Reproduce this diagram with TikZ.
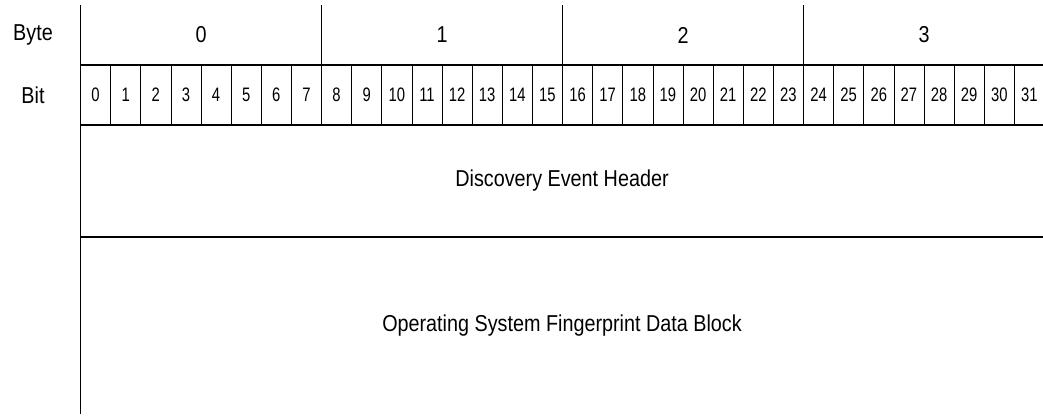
\documentclass[tikz,border=0pt]{standalone}
\usepackage{fontspec}
\setmainfont[FakeStretch=0.86]{Liberation Sans}
\newfontfamily\bitfont[FakeStretch=0.76]{Liberation Sans}
\begin{document}
\begin{tikzpicture}[x=1pt,y=-1pt,
  major/.style={line width=1.5pt,black},
  minor/.style={line width=0.7pt,black},
  lbl/.style={inner sep=0pt,font=\fontsize{23}{27}\selectfont},
  bitlbl/.style={inner sep=0pt,font=\bitfont\fontsize{19.5}{23}\selectfont},
  field/.style={inner sep=0pt,font=\fontsize{23}{27}\selectfont}]
\useasboundingbox (0,0) rectangle (1043,415);
% rows
\coordinate (L0) at (80.5,5);
\coordinate (L1) at (80.5,414);
\draw[major] (L0) -- (L1);
\foreach \y/\n in {65/a,125/b,237/c}{
  \coordinate (h\n l) at (80.5,\y);
  \coordinate (h\n r) at (1043,\y);
  \draw[major] (h\n l) -- (h\n r);
}
% bit dividers
\foreach \k in {1,...,31}{
  \pgfmathsetmacro{\xx}{80.5+30.125*\k}
  \coordinate (bt\k) at (\xx,65);
  \coordinate (bb\k) at (\xx,125);
}
\foreach \k in {1,...,7,9,10,...,15,17,18,...,23,25,26,...,31}{
  \draw[minor] (bt\k) -- (bb\k);
}
% byte dividers
\foreach \k in {8,16,24}{
  \pgfmathsetmacro{\xx}{80.5+30.125*\k}
  \coordinate (yt\k) at (\xx,5);
  \draw[major] (yt\k) -- (bb\k);
}
% labels
\node[lbl] (byte) at (33,35) {Byte};
\node[lbl] (bit) at (33,95) {Bit};
\foreach \b in {0,...,3}{
  \pgfmathsetmacro{\xx}{80.5+30.125*(8*\b+4)}
  \node[lbl] (by\b) at (\xx,35) {\b};
}
\foreach \k in {0,...,31}{
  \pgfmathsetmacro{\xx}{80.5+30.125*(\k+0.5)}
  \node[bitlbl] (bn\k) at (\xx,95) {\k};
}
\node[field] (deh) at (562,181) {Discovery Event Header};
\node[field] (osf) at (562,326) {Operating System Fingerprint Data Block};
\end{tikzpicture}
\end{document}
